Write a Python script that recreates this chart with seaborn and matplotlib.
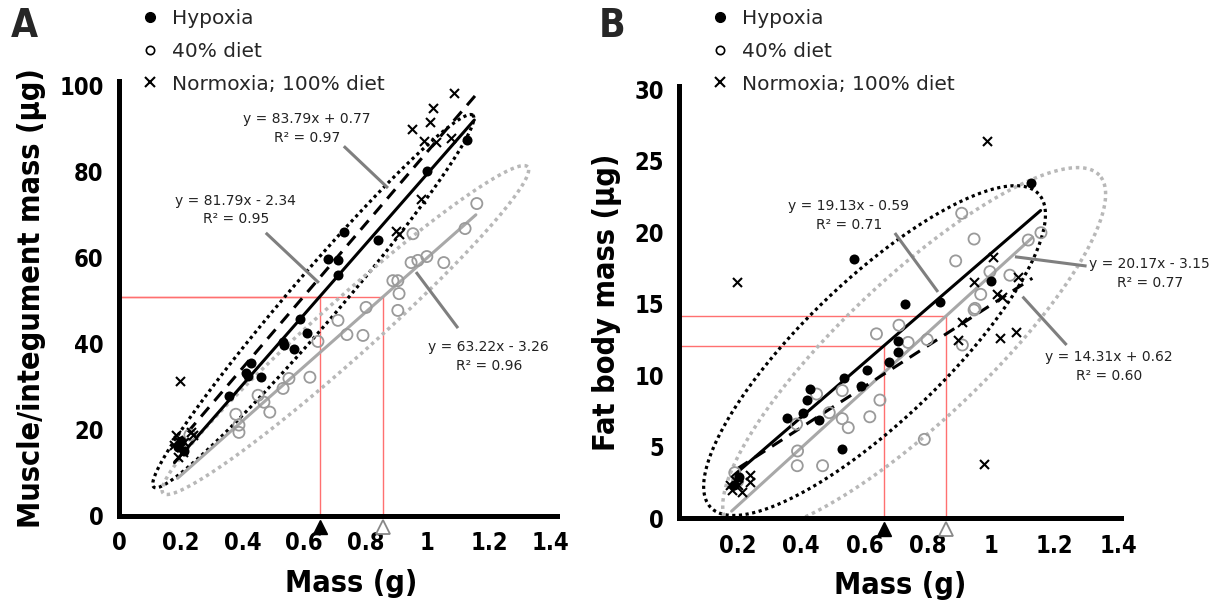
import numpy as np
import pandas as pd
import matplotlib
matplotlib.use("Agg")
import matplotlib.pyplot as plt
import matplotlib.transforms as mtransforms
from matplotlib import font_manager as fm
from matplotlib.lines import Line2D
import seaborn as sns

# ---------------- data, panel A (mass g vs muscle/integument ug) ----------------
a_hyp_x = [1.128, 0.998, 0.840, 0.729, 0.677, 0.710, 0.710, 0.587, 0.609, 0.532,
           0.535, 0.567, 0.428, 0.412, 0.418, 0.460, 0.357, 0.190, 0.200, 0.210]
a_hyp_y = [87.3, 80.1, 64.1, 66.0, 59.7, 59.5, 56.0, 45.8, 42.4, 40.3,
           39.6, 38.7, 35.4, 33.1, 32.4, 32.2, 27.8, 16.0, 17.5, 15.0]
a_diet_x = [1.160, 1.122, 1.053, 0.998, 0.969, 0.947, 0.953, 0.908, 0.888, 0.904,
            0.801, 0.904, 0.710, 0.739, 0.791, 0.645, 0.619, 0.551, 0.532, 0.451,
            0.470, 0.489, 0.379, 0.389, 0.389, 0.230, 0.200]
a_diet_y = [72.5, 66.7, 58.8, 60.2, 59.3, 58.8, 65.5, 51.6, 54.6, 54.6,
            48.4, 47.7, 45.4, 42.1, 41.9, 40.5, 32.2, 31.9, 29.6, 28.0,
            26.4, 24.1, 23.6, 21.1, 19.4, 18.8, 16.5]
a_norm_x = [1.086, 1.018, 1.008, 0.950, 0.989, 1.028, 1.076, 0.979, 0.898, 0.908,
            0.198, 0.185, 0.191, 0.178, 0.201, 0.211, 0.233, 0.240, 0.191, 0.207]
a_norm_y = [98.1, 94.7, 91.4, 89.8, 87.0, 86.8, 87.7, 73.6, 66.2, 65.5,
            31.3, 18.8, 17.6, 16.4, 16.0, 17.1, 19.4, 18.8, 13.7, 14.8]
# regression lines: hypoxia, 40% diet, normoxia
a_slope = [81.79, 63.22, 83.79]
a_icept = [-2.34, -3.26, 0.77]
a_r2 = [0.95, 0.96, 0.97]
a_xfrom = [0.18, 0.19, 0.18]
a_xto = [1.152, 1.157, 1.157]
a_mark_x = [0.651, 0.857]   # mean mass hypoxia / 40% diet

# ---------------- data, panel B (mass g vs fat body ug) ----------------
b_hyp_x = [1.127, 0.567, 0.998, 0.728, 0.838, 0.707, 0.707, 0.677, 0.609, 0.537,
           0.588, 0.428, 0.418, 0.407, 0.357, 0.457, 0.528, 0.190, 0.205]
b_hyp_y = [23.47, 18.1, 16.6, 15.0, 15.1, 12.4, 11.6, 10.9, 10.4, 9.8,
           9.25, 9.04, 8.27, 7.39, 7.04, 6.87, 4.85, 2.3, 2.9]
b_diet_x = [0.907, 0.946, 0.888, 0.996, 1.059, 1.117, 1.157, 0.967, 0.949, 0.946,
            0.909, 0.709, 0.638, 0.738, 0.798, 0.530, 0.449, 0.649, 0.489, 0.530,
            0.617, 0.549, 0.386, 0.389, 0.388, 0.468, 0.789, 0.191, 0.200]
b_diet_y = [21.33, 19.53, 18.0, 17.25, 17.0, 19.46, 19.97, 15.66, 14.68, 14.57,
            12.12, 13.5, 12.9, 12.3, 12.5, 8.93, 8.69, 8.27, 7.39, 6.97,
            7.1, 6.34, 6.59, 4.71, 3.68, 3.68, 5.52, 3.19, 2.6]
b_norm_x = [0.987, 0.199, 1.006, 0.945, 1.019, 1.085, 1.033, 0.907, 0.896, 1.027,
            1.078, 0.978, 0.181, 0.202, 0.191, 0.213, 0.239, 0.239, 0.176]
b_norm_y = [26.4, 16.55, 18.3, 16.5, 15.7, 16.85, 15.5, 13.75, 12.5, 12.6,
            13.05, 3.8, 1.98, 2.33, 2.68, 1.86, 3.03, 2.56, 2.33]
b_slope = [19.13, 20.17, 14.31]
b_icept = [-0.59, -3.15, 0.62]
b_r2 = [0.71, 0.77, 0.60]
b_xfrom = [0.186, 0.181, 0.20]
b_xto = [1.156, 1.13, 1.13]
b_mark_x = [0.662, 0.859]

groups = ["Hypoxia", "40% diet", "Normoxia; 100% diet"]
x_ticks = [0, 0.2, 0.4, 0.6, 0.8, 1.0, 1.2, 1.4]
x_tick_labels = ["0", "0.2", "0.4", "0.6", "0.8", "1", "1.2", "1.4"]

sns.set_style("white")
plt.rcParams["font.family"] = ["DejaVu Sans"]
GREY = "#a8a8a8"


# pick a bold condensed face for the axes text if one is installed
def _weight(f):
    w = f.weight
    if isinstance(w, str):
        w = fm.weight_dict.get(w, 400)
    return w


_cands = [f for f in fm.fontManager.ttflist
          if _weight(f) >= 700 and f.style == "normal"
          and ("Narrow" in f.name or "Condensed" in f.name
               or f.stretch in ("condensed", "semi-condensed"))]
_cands.sort(key=lambda f: (_weight(f), f.fname))
if _cands:
    BOLD = fm.FontProperties(fname=_cands[0].fname)
    TICK_FS, LAB_FS = 17, 22
else:
    BOLD = fm.FontProperties(family=["Liberation Sans", "DejaVu Sans"],
                             weight="bold")
    TICK_FS, LAB_FS = 17, 21


def frame(x, y, g):
    return pd.DataFrame({"mass": x, "val": y, "group": g})


def eq_text(m, b, r2):
    sign = "+" if b >= 0 else "-"
    return f"y = {m:.2f}x {sign} {abs(b):.2f}\nR\u00b2 = {r2:.2f}"


def ellipse(ax, center, tip, ratio, **kw):
    # ellipse drawn in screen space so it looks round regardless of axis scales
    c = ax.transData.transform(center)
    t = ax.transData.transform(tip)
    u = t - c
    v = np.array([-u[1], u[0]]) * ratio
    th = np.linspace(0, 2 * np.pi, 400)
    pts = c + np.outer(np.cos(th), u) + np.outer(np.sin(th), v)
    d = ax.transData.inverted().transform(pts)
    ax.plot(d[:, 0], d[:, 1], **kw)


def panel(ax, hx, hy, dx, dy, nx, ny, slope, icept, mark_x,
          xfrom, xto, ylim, yticks, xlim, xtl, ylabel):
    ax.set_xlim(*xlim)
    ax.set_ylim(*ylim)

    # red guide lines from the fitted lines at the mean masses
    for i, mx in enumerate(mark_x):
        yv = slope[i] * mx + icept[i]
        ax.plot([xlim[0], mx], [yv, yv], color="#ff7070", lw=1, zorder=1)
        ax.plot([mx, mx], [0, yv], color="#ff7070", lw=1, zorder=1)

    styles = [dict(color="black", lw=2.2),
              dict(color=GREY, lw=2.2),
              dict(color="black", lw=2.2, ls=(0, (4, 2.7)))]
    for i in range(3):
        xs = np.array([xfrom[i], xto[i]])
        ax.plot(xs, slope[i] * xs + icept[i], zorder=3, **styles[i])

    sns.scatterplot(data=frame(dx, dy, groups[1]), x="mass", y="val", ax=ax,
                    marker="o", s=64, facecolor="none", edgecolor="#9a9a9a",
                    linewidth=1.3, zorder=4, legend=False)
    sns.scatterplot(data=frame(hx, hy, groups[0]), x="mass", y="val", ax=ax,
                    marker="o", s=52, color="black", edgecolor="black",
                    linewidth=0, zorder=5, legend=False)
    sns.scatterplot(data=frame(nx, ny, groups[2]), x="mass", y="val", ax=ax,
                    marker="x", s=42, color="black", linewidth=1.5, zorder=5,
                    legend=False)

    # triangles marking the mean masses under the axis
    tr = mtransforms.offset_copy(ax.get_xaxis_transform(), fig=ax.figure,
                                 y=-8, units="points")
    ax.plot([mark_x[0]], [0], marker="^", ms=10, color="black", transform=tr,
            clip_on=False, zorder=6)
    ax.plot([mark_x[1]], [0], marker="^", ms=10, mfc="white", mec="#888888",
            mew=1.3, transform=tr, clip_on=False, zorder=6)

    for side in ["top", "right"]:
        ax.spines[side].set_visible(False)
    for side in ["left", "bottom"]:
        ax.spines[side].set_linewidth(3.6)
        ax.spines[side].set_color("black")
        ax.spines[side].set_capstyle("projecting")
    ax.set_xticks([t for t, l in zip(x_ticks, x_tick_labels) if l in xtl])
    ax.set_xticklabels(xtl)
    ax.set_yticks(yticks)
    ax.tick_params(direction="out", length=5, width=1, color="#aaaaaa",
                   pad=6, labelcolor="black")
    for lbl in ax.get_xticklabels() + ax.get_yticklabels():
        lbl.set_fontproperties(BOLD)
        lbl.set_fontsize(TICK_FS)
    ax.set_xlabel("Mass (g)", fontproperties=BOLD, fontsize=LAB_FS,
                  labelpad=10, color="black")
    ax.set_ylabel(ylabel, fontproperties=BOLD, fontsize=LAB_FS,
                  labelpad=9, color="black")


fig = plt.figure(figsize=(12.25, 6.1), dpi=100)
axA = fig.add_axes([0.0971, 0.1541, 0.3576, 0.7136])
axB = fig.add_axes([0.5543, 0.1503, 0.3609, 0.7080])

panel(axA, a_hyp_x, a_hyp_y, a_diet_x, a_diet_y, a_norm_x, a_norm_y,
      a_slope, a_icept, a_mark_x, a_xfrom, a_xto,
      (0, 101), [0, 20, 40, 60, 80, 100], (0, 1.42), x_tick_labels,
      "Muscle/integument mass (\u03bcg)")
panel(axB, b_hyp_x, b_hyp_y, b_diet_x, b_diet_y, b_norm_x, b_norm_y,
      b_slope, b_icept, b_mark_x, b_xfrom, b_xto,
      (0, 30.2), [0, 5, 10, 15, 20, 25, 30], (0.015, 1.41), x_tick_labels[1:],
      "Fat body mass (\u03bcg)")
axA.xaxis.label.set_x(0.53)

# hand drawn envelopes around the hypoxia (black) and 40% diet (grey) groups
ellipse(axA, (0.630, 49.85), (1.147, 93.0), 0.10, color="black", lw=2.3,
        ls=(0, (1, 1.1)), zorder=2)
ellipse(axA, (0.734, 43.15), (1.325, 81.0), 0.115, color="#b8b8b8", lw=2.5,
        ls=(0, (1, 1.1)), zorder=2)
ellipse(axB, (0.632, 11.73), (1.149, 22.7), 0.31, color="black", lw=2.3,
        ls=(0, (1, 1.1)), zorder=2)
ellipse(axB, (0.757, 11.76), (1.341, 24.0), 0.28, color="#b8b8b8", lw=2.5,
        ls=(0, (1, 1.1)), zorder=2)

# equation labels + callout lines, order: hypoxia, diet, normoxia
a_lab = [(0.379, 71.0), (1.199, 36.9), (0.609, 89.8)]
a_call = [((0.476, 65.7), (0.648, 54.1)), ((0.963, 56.6), (1.099, 43.6)),
          ((0.729, 85.8), (0.872, 76.1))]
b_lab = [(0.551, 21.2), (1.50, 17.1), (1.371, 10.6)]
b_call = [((0.696, 19.95), (0.832, 15.83)), ((1.075, 18.29), (1.301, 17.64)),
          ((1.099, 15.5), (1.238, 12.12))]
for ax, lab, call, sl, ic, r2 in [(axA, a_lab, a_call, a_slope, a_icept, a_r2),
                                  (axB, b_lab, b_call, b_slope, b_icept, b_r2)]:
    for i in range(3):
        ax.text(lab[i][0], lab[i][1], eq_text(sl[i], ic[i], r2[i]),
                ha="center", va="center", multialignment="center",
                fontsize=10, color="#222222", linespacing=1.45, zorder=7)
        (x0, y0), (x1, y1) = call[i]
        ax.plot([x0, x1], [y0, y1], color="#7f7f7f", lw=2.2, zorder=6,
                clip_on=False, solid_capstyle="butt")

handles = [Line2D([], [], ls="", marker="o", ms=7, color="black"),
           Line2D([], [], ls="", marker="o", ms=6, mfc="none", mec="black",
                  mew=1.2),
           Line2D([], [], ls="", marker="x", ms=7, color="black", mew=1.5)]
for x0 in [0.1143, 0.5796]:
    fig.legend(handles, groups, loc="upper left", bbox_to_anchor=(x0, 0.985),
               frameon=False, fontsize=14.5, handlelength=1.0,
               handletextpad=0.6, labelspacing=0.68, borderpad=0,
               borderaxespad=0)

fig.text(0.009, 0.988, "A", fontproperties=BOLD, fontsize=28, va="top")
fig.text(0.489, 0.988, "B", fontproperties=BOLD, fontsize=28, va="top")

fig.savefig("out.png", dpi=100)
